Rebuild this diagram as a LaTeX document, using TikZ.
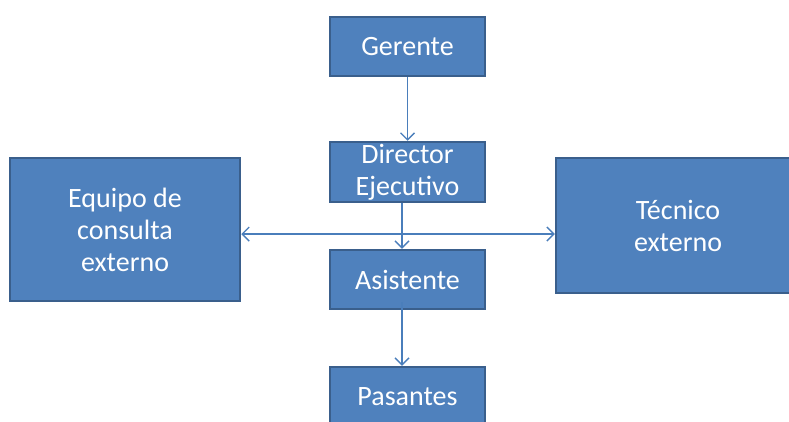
\documentclass[tikz,border=0pt]{standalone}
\usepackage{fontspec}
\setmainfont{Carlito}
\usetikzlibrary{arrows.meta}
\definecolor{cajaazul}{HTML}{4F81BD}
\definecolor{bordeazul}{HTML}{3A5F8C}
\definecolor{lineaazul}{HTML}{4A7EBB}

\begin{document}
\begin{tikzpicture}
	[x=1pt,y=-1pt,
	caja/.style={rectangle,draw=bordeazul,fill=cajaazul,line width=2.5pt,text=white,align=center,inner sep=0pt,font=\fontsize{28}{32}\selectfont},
	flecha/.style={draw=lineaazul,line width=1.4pt,-{Straight Barb[length=7pt,width=14pt]}},
	dflecha/.style={draw=lineaazul,line width=1.4pt,{Straight Barb[length=7pt,width=14pt]}-{Straight Barb[length=7pt,width=14pt]}}]
    \useasboundingbox (0,0) rectangle (789,421);
    \node[caja,minimum width=155pt,minimum height=59pt] at (407.5,46.5)  (gerente) {Gerente};
    \node[caja,minimum width=155pt,minimum height=60pt] at (407.5,172)   (director) {Director\\Ejecutivo};
    \node[caja,minimum width=155pt,minimum height=59pt] at (407.5,279.5) (asistente) {Asistente};
    \node[caja,minimum width=155pt,minimum height=59pt] at (407.5,396.5) (pasantes) {Pasantes};
    \node[caja,minimum width=230pt,minimum height=143pt] at (125,229.5)  (equipo) {Equipo de\\consulta\\externo};
    \node[caja,minimum width=244pt,minimum height=135pt] at (678,225.5)  (tecnico) {Técnico\\externo};
    \coordinate (cruce) at (402,234);
    \draw[flecha] (gerente) -- (director);
    \draw[flecha] (director.south -| cruce) -- (asistente.north -| cruce);
    \draw[flecha] ([yshift=8pt]asistente.south -| cruce) -- (pasantes.north -| cruce);
    \draw[dflecha] (cruce -| equipo.east) -- (cruce -| tecnico.west);
\end{tikzpicture}
\end{document}
